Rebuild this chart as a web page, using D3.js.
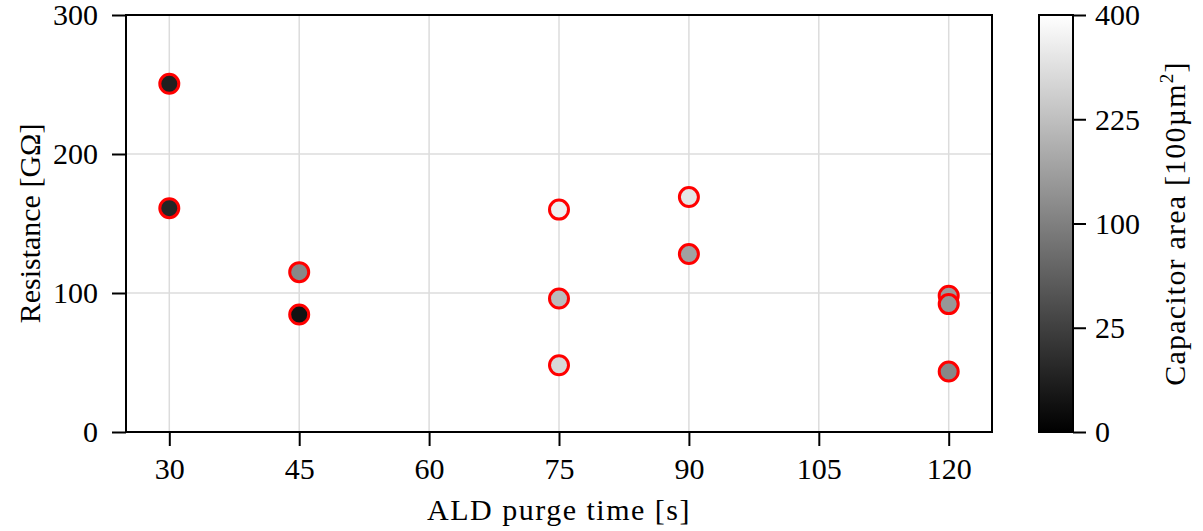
<!DOCTYPE html>
<html><head><meta charset="utf-8">
<script src="https://cdn.jsdelivr.net/npm/d3@7"></script>
<style>body{margin:0;background:#fff}svg{display:block}text{font-family:"Liberation Serif","DejaVu Serif",serif;fill:#000}</style>
</head><body><svg id="c" width="1203" height="531"></svg>
<script>
const purgeTime = [30,30,45,45,75,75,75,90,90,120,120,120];
const resistance = [250.5,161,115,84.5,160,96,48,169,128,98,92,43.5];
const capArea = [6,8,114,2,350,215,288,322,160,150,140,112];
const xTicks = [30,45,60,75,90,105,120];
const yTicks = [0,100,200,300];
const cTicks = [0,25,100,225,400];

const svg = d3.select("#c");
const L=126,R=992,T=15,B=432;
const x = d3.scaleLinear().domain([25,125]).range([L,R]);
const y = d3.scaleLinear().domain([0,300]).range([B,T]);
const cs = d3.scaleSqrt().domain([0,400]).range([0,1]);
const grey = v => { const g=Math.round(255*cs(v)); return d3.rgb(g,g,g)+""; };

// grid
svg.append("g").selectAll("line").data(xTicks).join("line")
  .attr("x1",d=>x(d)).attr("x2",d=>x(d)).attr("y1",T).attr("y2",B)
  .attr("stroke","#dcdcdc").attr("stroke-width",1.5);
svg.append("g").selectAll("line").data(yTicks).join("line")
  .attr("y1",d=>y(d)).attr("y2",d=>y(d)).attr("x1",L).attr("x2",R)
  .attr("stroke","#dcdcdc").attr("stroke-width",1.5);

// points
const pts = purgeTime.map((t,i)=>({t,r:resistance[i],a:capArea[i]}));
svg.append("g").selectAll("circle").data(pts).join("circle")
  .attr("cx",d=>x(d.t)).attr("cy",d=>y(d.r)).attr("r",9.5)
  .attr("fill",d=>grey(d.a)).attr("stroke","#ff0000").attr("stroke-width",3);

// axes
const fs = 30;
const xa = svg.append("g").attr("transform",`translate(0,${B})`)
  .call(d3.axisBottom(x).tickValues(xTicks).tickSize(14).tickPadding(10));
const ya = svg.append("g").attr("transform",`translate(${L},0)`)
  .call(d3.axisLeft(y).tickValues(yTicks).tickSize(14).tickPadding(14));
[xa,ya].forEach(a=>{a.attr("font-family",null).attr("font-size",null);a.select(".domain").remove();a.selectAll("line").attr("stroke","#000").attr("stroke-width",2);
  a.selectAll("text").attr("font-size",fs);});
xa.selectAll("text").attr("dy","0.77em");
ya.selectAll("text").attr("dy","0.33em");
svg.append("rect").attr("x",L).attr("y",T).attr("width",R-L).attr("height",B-T)
  .attr("fill","none").attr("stroke","#000").attr("stroke-width",2);

svg.append("text").attr("x",(L+R)/2).attr("y",520).attr("text-anchor","middle").attr("font-size",fs)
  .attr("letter-spacing",1.5).text("ALD purge time [s]");
svg.append("text").attr("transform",`translate(40,${(T+B)/2}) rotate(-90)`).attr("text-anchor","middle").attr("font-size",fs).text("Resistance [GΩ]");

// colorbar
const CL=1039,CR=1073;
const cy = d3.scaleSqrt().domain([0,400]).range([B,T]);
const defs = svg.append("defs");
const grad = defs.append("linearGradient").attr("id","g").attr("x1",0).attr("x2",0).attr("y1",1).attr("y2",0);
grad.append("stop").attr("offset",0).attr("stop-color","#000");
grad.append("stop").attr("offset",1).attr("stop-color","#fff");
svg.append("rect").attr("x",CL).attr("y",T).attr("width",CR-CL).attr("height",B-T).attr("fill","url(#g)")
  .attr("stroke","#000").attr("stroke-width",2);
const ca = svg.append("g").attr("transform",`translate(${CR},0)`)
  .call(d3.axisRight(cy).tickValues(cTicks).tickFormat(d3.format("d")).tickSize(13).tickPadding(9));
ca.attr("font-family",null).attr("font-size",null);
ca.select(".domain").remove();
ca.selectAll("line").attr("stroke","#000").attr("stroke-width",2);
ca.selectAll("text").attr("font-size",fs).attr("dy","0.33em");
const lab = svg.append("text").attr("transform",`translate(1185,${(T+B)/2}) rotate(-90)`).attr("text-anchor","middle").attr("font-size",fs).attr("letter-spacing",1.2);
lab.append("tspan").text("Capacitor area [100µm");
lab.append("tspan").attr("font-size",19).attr("dy",-12).text("2");
lab.append("tspan").attr("dy",12).text("]");
</script></body></html>
